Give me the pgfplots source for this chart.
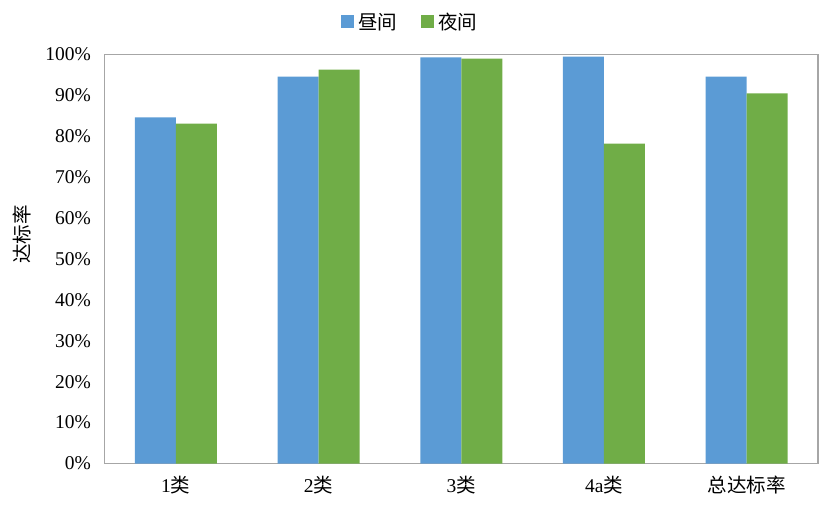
\documentclass[border=0pt]{standalone}
\usepackage{fontspec}
\setmainfont{Liberation Serif}
\newfontfamily\cjk{Noto Sans CJK SC}
\usepackage{pgfplots}
\pgfplotsset{compat=1.18}
\definecolor{cblue}{HTML}{5B9BD5}
\definecolor{cgreen}{HTML}{70AD47}
\definecolor{cframe}{HTML}{A6A6A6}
\begin{document}
\begin{tikzpicture}
\useasboundingbox (0,0) rectangle (831bp,513bp);
\begin{axis}[
  at={(104.5bp,49.5bp)}, anchor=south west,
  scale only axis, width=713.5bp, height=409bp,
  ybar=0pt, bar width=41bp,
  xmin=-0.5, xmax=4.5, ymin=0, ymax=100,
  xtick={0,1,2,3,4},
  xticklabels={1{\cjk 类},2{\cjk 类},3{\cjk 类},4a{\cjk 类},{\cjk 总达标率}},
  ytick={0,10,...,100},
  yticklabel={\pgfmathprintnumber{\tick}\%},
  /pgf/number format/assume math mode=true,
  major tick length=0pt,
  axis line style={cframe, line width=1.8bp},
  tick label style={font=\fontsize{19.5bp}{22bp}\selectfont, black},
  xticklabel style={yshift=-9bp},
  yticklabel style={xshift=-10bp},
  ylabel={\cjk 达标率},
  ylabel style={at={(axis description cs:-0.115,0.56)}, anchor=center, font=\fontsize{19.5bp}{22bp}\selectfont, black},
  legend columns=2,
  legend style={at={(axis description cs:0.4296,1.0795)}, anchor=center, draw=none, fill=none,
    font=\fontsize{19.5bp}{22bp}\selectfont\cjk,
    nodes={inner xsep=4bp, inner ysep=0pt},
    /tikz/every even column/.append style={column sep=20bp}},
  legend image code/.code={\fill[#1] (0bp,-6.5bp) rectangle (13bp,6.5bp);},
]
\addplot[fill=cblue, draw=none] coordinates {(0,84.6) (1,94.6) (2,99.3) (3,99.5) (4,94.6)};
\addplot[fill=cgreen, draw=none] coordinates {(0,83.1) (1,96.3) (2,99.0) (3,78.2) (4,90.5)};
\legend{昼间,夜间}
\end{axis}
\end{tikzpicture}
\end{document}
